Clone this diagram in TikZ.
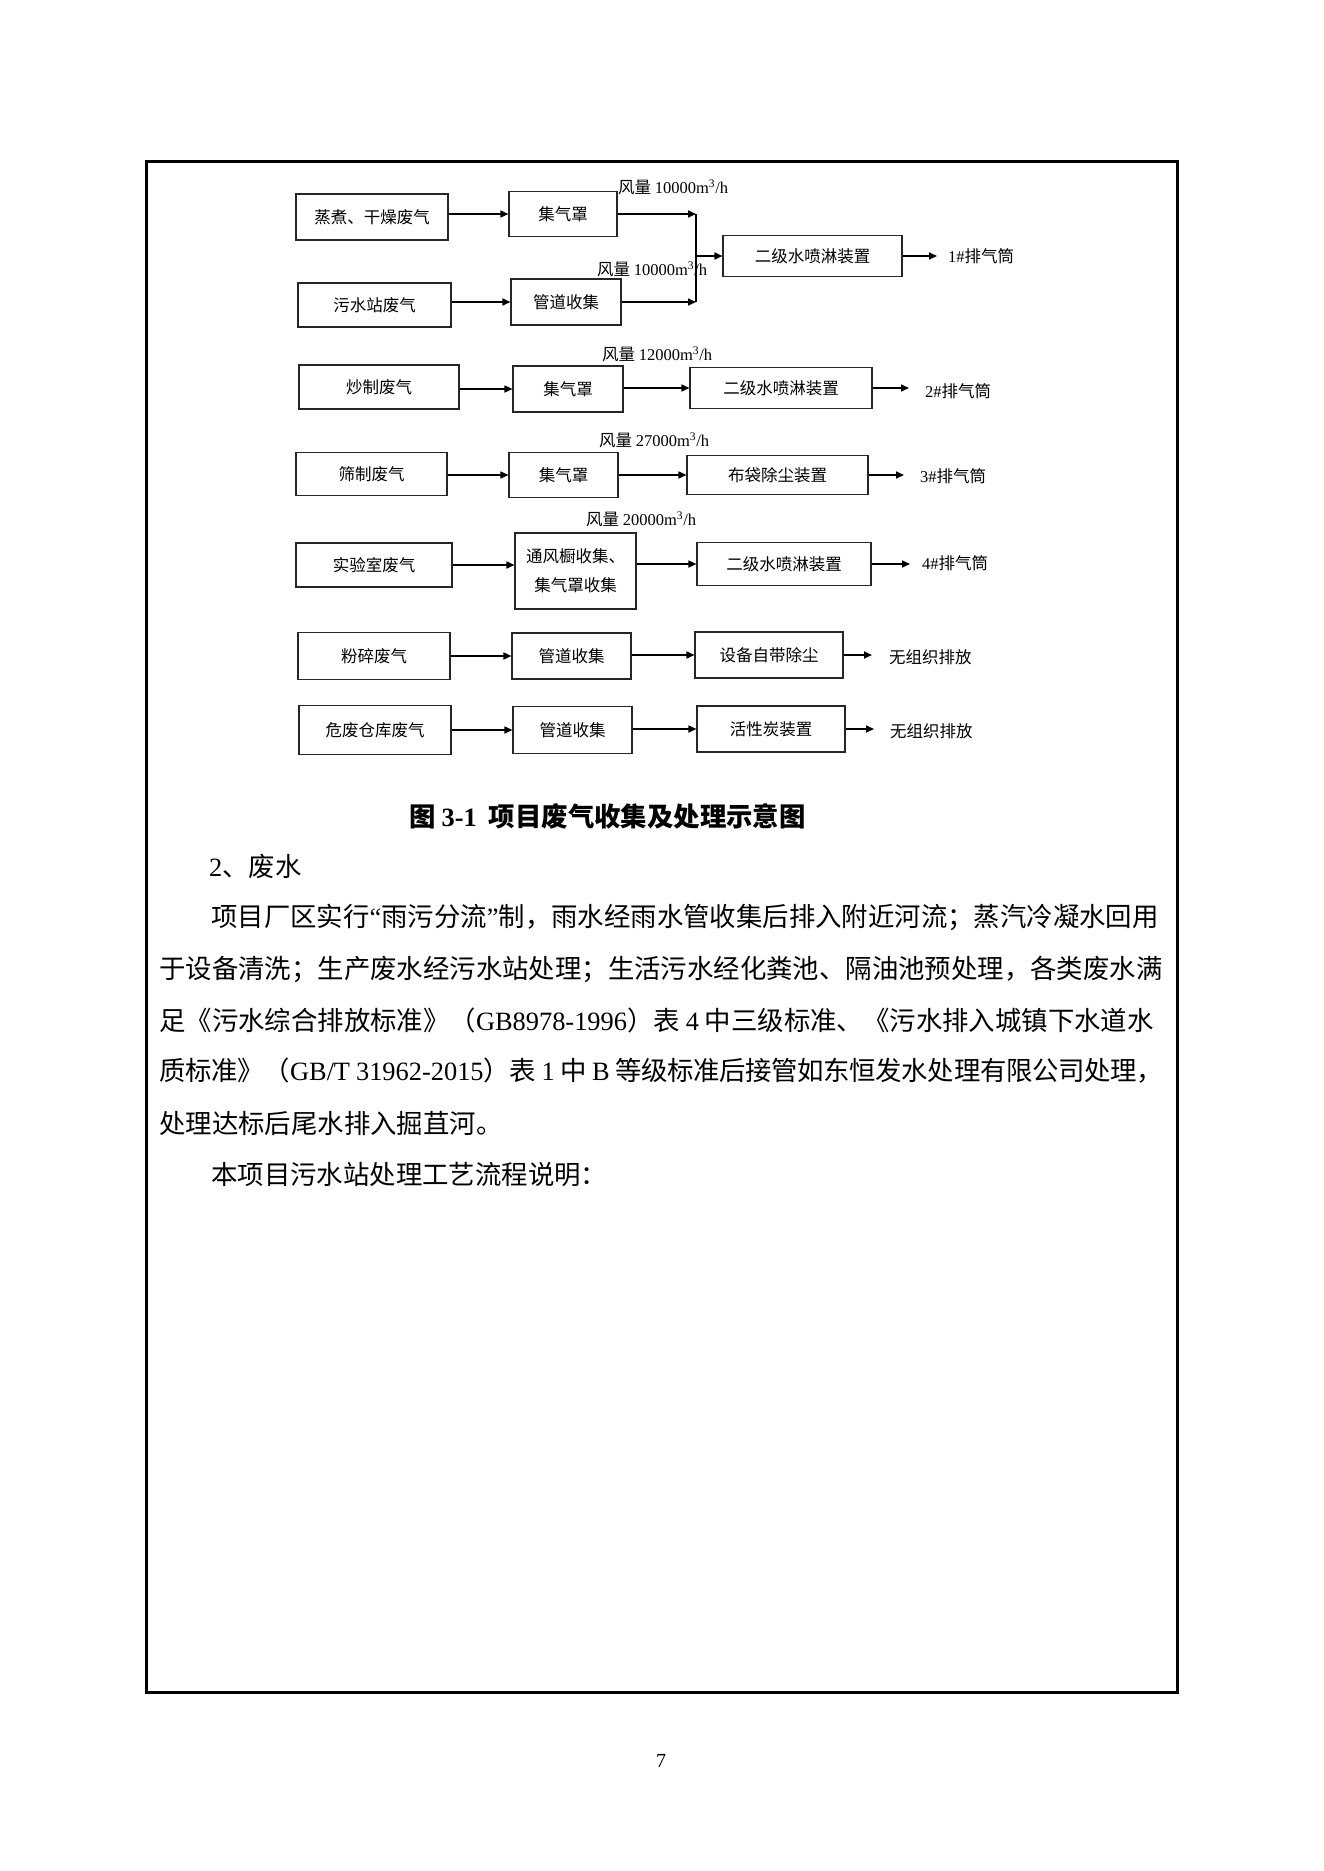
\documentclass[tikz,border=0pt]{standalone}
\usepackage{fontspec}
\setmainfont{Noto Sans CJK SC}
\newfontfamily\tnr{Liberation Serif}
\usetikzlibrary{arrows.meta}
\XeTeXlinebreaklocale "zh"
\XeTeXlinebreakskip=0pt plus 4pt minus 1.5pt
\newcommand\myBody{\fontsize{26.4}{30}\selectfont}
\newcommand\mySmall{\fontsize{16.5}{20}\selectfont}
\begin{document}
\begin{tikzpicture}[x=1pt,y=-1pt,
  box/.style={draw=black!85, line width=1.1pt, inner sep=0pt, font=\mySmall, align=center},
  arr/.style={line width=1.6pt, -{Triangle[length=8pt,width=7pt]}},
  seg/.style={line width=1.6pt},
  lbl/.style={anchor=west, inner sep=0pt, font=\mySmall},
  para/.style={anchor=west, inner sep=0pt, font=\myBody, align=justify}]
\useasboundingbox (0,0) rectangle (1323,1871);
\fill[white] (0,0) rectangle (1323,1871);
\draw[line width=3pt] (146,161) rectangle (1177,1692);

% row 1
\node[box, minimum width=152, minimum height=46] (A1) at (372,217) {蒸煮、干燥废气};
\node[box, minimum width=108, minimum height=45] (B1) at (563,214) {集气罩};
\node[box, minimum width=153, minimum height=44] (A2) at (374.5,305) {污水站废气};
\node[box, minimum width=110, minimum height=46] (B2) at (566,302) {管道收集};
\node[box, minimum width=179, minimum height=41] (C1) at (812.5,256) {二级水喷淋装置};
\coordinate (J1) at (696,214);
\coordinate (J2) at (696,302);
\coordinate (J3) at (696,256);
\node[lbl] (L1) at (618,187) {风量 {\tnr 10000m\textsuperscript{3}/h}};
\node[lbl] (L2) at (597,269) {风量 {\tnr 10000m\textsuperscript{3}/h}};
\node[lbl] (O1) at (948,256) {{\tnr 1\#}排气筒};
\draw[arr] (A1.east |- B1) -- (B1.west);
\draw[arr] (A2.east |- B2) -- (B2.west);
\draw[arr] (B1.east) -- (J1);
\draw[arr] (B2.east |- J2) -- (J2);
\draw[seg] (J1) -- (J2);
\draw[arr] (J3) -- (J3 -| C1.west);
\draw[arr, shorten >=11pt] (C1.east |- O1) -- (O1.west);

% row 2
\node[box, minimum width=160, minimum height=44] (A3) at (379,387) {炒制废气};
\node[box, minimum width=110, minimum height=46] (B3) at (568,389) {集气罩};
\node[box, minimum width=182, minimum height=41] (C3) at (781,388) {二级水喷淋装置};
\node[lbl] (L3) at (602,354) {风量 {\tnr 12000m\textsuperscript{3}/h}};
\node[lbl] (O3) at (925,391) {{\tnr 2\#}排气筒};
\draw[arr] (A3.east |- B3) -- (B3.west);
\draw[arr] (B3.east |- C3) -- (C3.west);
\draw[arr, shorten >=16pt] (C3.east) -- (C3.east -| O3.west);

% row 3
\node[box, minimum width=151, minimum height=43] (A4) at (371.5,474) {筛制废气};
\node[box, minimum width=109, minimum height=45] (B4) at (563.5,475) {集气罩};
\node[box, minimum width=181, minimum height=39] (C4) at (777.5,475) {布袋除尘装置};
\node[lbl] (L4) at (599,440) {风量 {\tnr 27000m\textsuperscript{3}/h}};
\node[lbl] (O4) at (920,476) {{\tnr 3\#}排气筒};
\draw[arr] (A4.east |- B4) -- (B4.west);
\draw[arr] (B4.east |- C4) -- (C4.west);
\draw[arr, shorten >=16pt] (C4.east) -- (C4.east -| O4.west);

% row 4
\node[box, minimum width=156, minimum height=44] (A5) at (374,565) {实验室废气};
\node[box, minimum width=121, minimum height=76, font=\fontsize{16.5}{29}\selectfont] (B5) at (575.5,571) {通风橱收集、\\集气罩收集};
\node[box, minimum width=174, minimum height=43] (C5) at (784,564) {二级水喷淋装置};
\node[lbl] (L5) at (586,519) {风量 {\tnr 20000m\textsuperscript{3}/h}};
\node[lbl] (O5) at (922,563) {{\tnr 4\#}排气筒};
\draw[arr] (A5.east) -- (A5.east -| B5.west);
\draw[arr] (B5.east |- C5) -- (C5.west);
\draw[arr, shorten >=12pt] (C5.east) -- (C5.east -| O5.west);

% row 5
\node[box, minimum width=152, minimum height=47] (A6) at (374,656) {粉碎废气};
\node[box, minimum width=119, minimum height=46] (B6) at (571.5,656) {管道收集};
\node[box, minimum width=148, minimum height=46] (C6) at (769,655) {设备自带除尘};
\node[lbl] (O6) at (889,657) {无组织排放};
\draw[arr] (A6.east |- B6) -- (B6.west);
\draw[arr] (B6.east |- C6) -- (C6.west);
\draw[arr, shorten >=17pt] (C6.east) -- (C6.east -| O6.west);

% row 6
\node[box, minimum width=152, minimum height=49] (A7) at (375,730) {危废仓库废气};
\node[box, minimum width=119, minimum height=47] (B7) at (572.5,730) {管道收集};
\node[box, minimum width=148, minimum height=46] (C7) at (771,729) {活性炭装置};
\node[lbl] (O7) at (890,731) {无组织排放};
\draw[arr] (A7.east |- B7) -- (B7.west);
\draw[arr] (B7.east |- C7) -- (C7.west);
\draw[arr, shorten >=16pt] (C7.east) -- (C7.east -| O7.west);

% caption and text
\node[inner sep=0pt, font=\myBody\bfseries] (cap) at (607.5,816) {图 {\tnr\bfseries 3-1}\hspace{12pt}项目废气收集及处理示意图};
\node[para] (h2) at (209,866) {{\tnr 2}、废水};
\node[para, text width=952] (p1) at (211,917) {\noindent\parfillskip=0pt 项目厂区实行{\tnr “}雨污分流{\tnr ”}制，雨水经雨水管收集后排入附近河流；蒸汽冷凝水回用};
\node[para, text width=1004] (p2) at (159,969) {\noindent\parfillskip=0pt 于设备清洗；生产废水经污水站处理；生活污水经化粪池、隔油池预处理，各类废水满};
\node[para, text width=1004] (p3) at (159,1020) {\noindent\parfillskip=0pt 足《污水综合排放标准》（{\tnr GB8978-1996}）表 {\tnr 4} 中三级标准、《污水排入城镇下水道水};
\node[para, text width=1004] (p4) at (159,1071) {\noindent\parfillskip=0pt 质标准》（{\tnr GB/T 31962-2015}）表 {\tnr 1} 中 {\tnr B} 等级标准后接管如东恒发水处理有限公司处理，};
\node[para] (p5) at (159,1123) {处理达标后尾水排入掘苴河。};
\node[para] (p6) at (211,1175) {本项目污水站处理工艺流程说明：};
\node[inner sep=0pt, font=\tnr\fontsize{20}{24}\selectfont] (pg) at (661,1761) {7};
\end{tikzpicture}
\end{document}
